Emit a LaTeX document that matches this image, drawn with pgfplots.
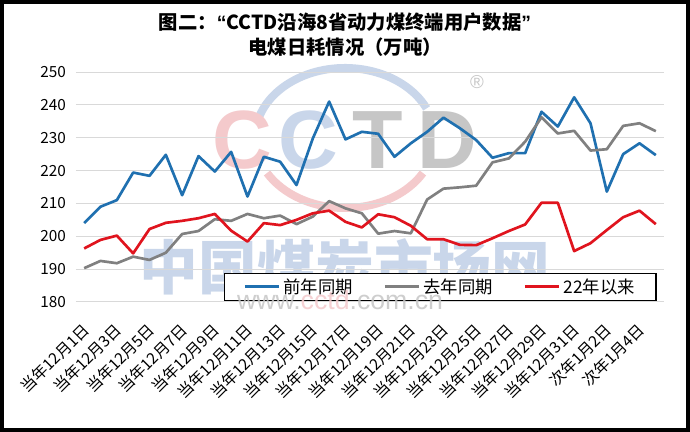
\documentclass[border=0pt]{standalone}
\usepackage{fontspec}
\setmainfont{Noto Sans CJK SC}
\newfontfamily\wmfont{Liberation Sans}
\usepackage{pgfplots}
\pgfplotsset{compat=1.18}
\usepackage{pgfplotstable}

\definecolor{qnblue}{HTML}{1F70B0}
\definecolor{qugray}{HTML}{808080}
\definecolor{yrred}{HTML}{E0141E}
\definecolor{gridgray}{HTML}{D9D9D9}
\definecolor{wmblue}{HTML}{C9D6EA}
\definecolor{wmred}{HTML}{F4CACC}
\definecolor{wmgray}{HTML}{C6C6C6}

% idx 0 = 12月1日 ... 30 = 12月31日, 31..35 = 1月1日..1月5日
\pgfplotstableread{
idx qn    qu    y22
0   204.0 190.3 196.3
1   209.0 192.5 198.9
2   211.0 191.8 200.2
3   219.4 193.8 194.8
4   218.4 192.8 202.2
5   224.8 195.0 204.1
6   212.5 200.7 204.7
7   224.4 201.6 205.5
8   219.7 205.2 206.8
9   225.7 204.7 201.7
10  212.1 206.8 198.4
11  224.2 205.5 204.0
12  222.7 206.3 203.4
13  215.6 203.7 205.0
14  229.8 206.0 207.0
15  241.0 210.7 207.8
16  229.5 208.5 204.4
17  231.8 207.0 202.7
18  231.2 200.8 206.7
19  224.2 201.6 205.8
20  228.3 200.9 203.2
21  231.8 211.2 199.1
22  236.1 214.5 199.1
23  232.9 214.9 197.4
24  229.3 215.4 197.3
25  223.9 222.5 199.4
26  225.3 223.7 201.6
27  225.3 228.8 203.6
28  237.9 236.2 210.2
29  233.4 231.3 210.2
30  242.3 232.1 195.5
31  234.4 226.1 197.9
32  213.6 226.5 201.9
33  225.0 233.6 205.8
34  228.3 234.4 207.8
35  224.7 232.0 203.7
}\coaldata

\begin{document}
\begin{tikzpicture}
\useasboundingbox (0,0) rectangle (517.5pt,324pt);
\fill[white] (0,0) rectangle (517.5pt,324pt);

% watermark and title, in pixel units from the top left
\begin{scope}[shift={(0pt,324pt)},x=0.75pt,y=-0.75pt]
  \draw[wmblue,line width=6pt] (345,138) ++(195:90 and 70)
    arc[start angle=195,end angle=335,x radius=90,y radius=70];
  \draw[wmred,line width=6pt] (345,138) ++(30:90 and 70)
    arc[start angle=30,end angle=150,x radius=90,y radius=70];
  \node[text=wmred]  at (242,140) {\wmfont\bfseries\fontsize{62}{62}\selectfont C};
  \node[text=wmblue] at (308,140) {\wmfont\bfseries\fontsize{62}{62}\selectfont C};
  \node[text=wmgray] at (378,140) {\wmfont\bfseries\fontsize{62}{62}\selectfont T};
  \node[text=wmgray] at (447,140) {\wmfont\bfseries\fontsize{62}{62}\selectfont D};
  \node[text=wmgray] at (477,82) {\wmfont\fontsize{14}{14}\selectfont ®};
  \node[text=wmblue] at (345,267) {\bfseries\fontsize{44}{44}\selectfont 中国煤炭市场网};
  \node at (345,22) {\bfseries\fontsize{14.5}{16}\selectfont
    图二：{\wmfont “}CCTD沿海8省动力煤终端用户数据{\wmfont ”}};
  \node at (345,47) {\bfseries\fontsize{14.5}{16}\selectfont 电煤日耗情况（万吨）};
\end{scope}

\begin{axis}[
    at={(57pt,97.5pt)}, anchor=south west,
    scale only axis, width=441pt, height=172.5pt,
    xmin=-0.5, xmax=35.5, ymin=180, ymax=250,
    ytick={180,190,...,250},
    xtick={0,2,...,34},
    xticklabels={当年12月1日,当年12月3日,当年12月5日,当年12月7日,当年12月9日,
      当年12月11日,当年12月13日,当年12月15日,当年12月17日,当年12月19日,
      当年12月21日,当年12月23日,当年12月25日,当年12月27日,当年12月29日,
      当年12月31日,次年1月2日,次年1月4日},
    axis line style={draw=none},
    major tick length=0pt,
    ymajorgrids, grid style={gridgray, line width=0.75pt},
    /pgf/number format/assume math mode=true,
    yticklabel style={font=\fontsize{11.5}{12}\selectfont, xshift=-4pt},
    xticklabel style={font=\fontsize{11.7}{12}\selectfont, xshift=1.5pt,
      yshift=-18.5pt, rotate=45, anchor=east, inner sep=0pt},
    legend columns=3,
    legend style={at={(0.252,0.004)}, anchor=south west, draw=black,
      line width=0.9pt, fill=white, inner xsep=14pt, inner ysep=2pt,
      font=\fontsize{13}{14}\selectfont,
      /tikz/every even column/.append style={column sep=21pt}},
    legend image code/.code={\draw[#1] (0pt,0pt) -- (26pt,0pt);},
    every axis plot/.append style={line width=2pt, line join=round, mark=none},
  ]
  \addplot[qnblue] table[x=idx, y=qn] {\coaldata};
  \addplot[qugray] table[x=idx, y=qu] {\coaldata};
  \addplot[yrred]  table[x=idx, y=y22] {\coaldata};
  \legend{前年同期,去年同期,22年以来}
\end{axis}

\begin{scope}[shift={(0pt,324pt)},x=0.75pt,y=-0.75pt]
  \node[opacity=0.85] at (340,300) {\wmfont\fontsize{20}{20}\selectfont
    \textcolor{wmgray}{www.}\textcolor{wmred}{cctd}\textcolor{wmgray}{.com.cn}};
\end{scope}

\draw[black,line width=3pt] (1.5pt,1.5pt) rectangle (516pt,322.5pt);
\end{tikzpicture}
\end{document}
